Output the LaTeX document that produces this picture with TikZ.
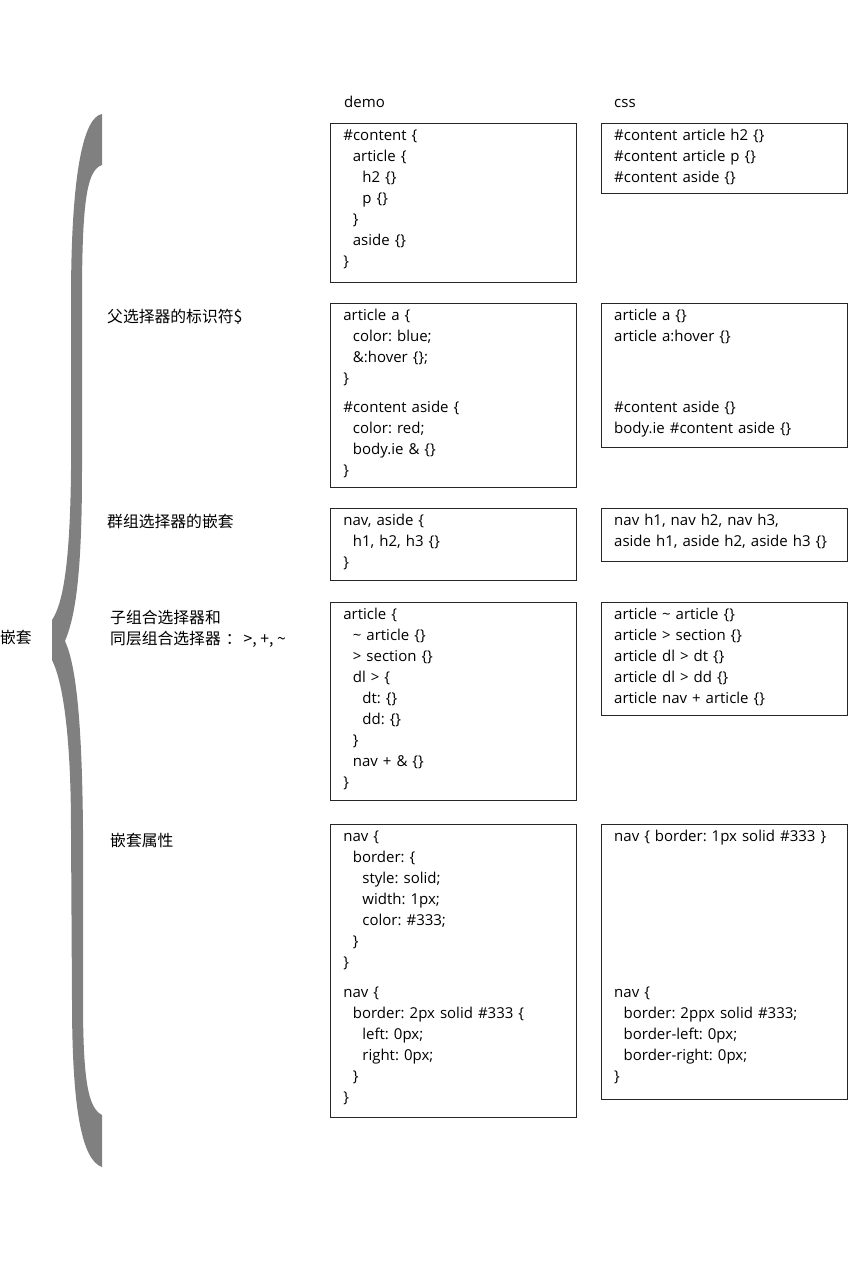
\documentclass[tikz,border=0pt]{standalone}
\usepackage{fontspec}
\setmainfont{Open Sans}
\newfontfamily\cjk{Noto Sans CJK SC}
\usetikzlibrary{positioning}
\tikzstyle{codebox} = [rectangle, draw=black!85, line width=0.8pt, anchor=north west,
    text width=220pt, align=left, inner xsep=13pt, inner ysep=0pt,
    text height=17.5pt, font=\fontsize{15}{21}\selectfont]
\tikzstyle{title} = [anchor=base west, inner sep=0pt, font=\fontsize{15}{21}\selectfont]
\tikzstyle{topic} = [anchor=base west, inner sep=0pt, align=left,
    font=\cjk\fontsize{15.8}{21}\selectfont]
\tikzstyle{brace} = [fill=black!50, draw=none]
\newcommand{\tabone}{\hspace*{9.5pt}}
\newcommand{\tabtwo}{\hspace*{19pt}}
\frenchspacing

\begin{document}
\begin{tikzpicture}[x=1pt, y=-1pt]
    \useasboundingbox (0,0) rectangle (848,1269);

    % Place titles
    \node [title] (demo) at (344,107) {demo};
    \node [title] (css) at (614,107) {css};

    % Place demo boxes
    \node [codebox, text depth=141.5pt] (demo1) at (330,123)
        {\#content \{\\ \tabone article \{\\ \tabtwo h2 \{\}\\ \tabtwo p \{\}\\
         \tabone \}\\ \tabone aside \{\}\\ \}};
    \node [codebox, text depth=166.5pt, below right=20.2pt and 0pt of demo1.south west] (demo2)
        {article a \{\\ \tabone color: blue;\\ \tabone \&:hover \{\};\\ \}\\[8pt]
         \#content aside \{\\ \tabone color: red;\\ \tabone body.ie \& \{\}\\ \}};
    \node [codebox, text depth=54.5pt, below right=20.2pt and 0pt of demo2.south west] (demo3)
        {nav, aside \{\\ \tabone h1, h2, h3 \{\}\\ \}};
    \node [codebox, text depth=180.5pt, below right=21.2pt and 0pt of demo3.south west] (demo4)
        {article \{\\ \tabone \textasciitilde{} article \{\}\\ \tabone > section \{\}\\
         \tabone dl > \{\\ \tabtwo dt: \{\}\\ \tabtwo dd: \{\}\\ \tabone \}\\
         \tabone nav + \& \{\}\\ \}};
    \node [codebox, text depth=275.5pt, below right=23.2pt and 0pt of demo4.south west] (demo5)
        {nav \{\\ \tabone border: \{\\ \tabtwo style: solid;\\ \tabtwo width: 1px;\\
         \tabtwo color: \#333;\\ \tabone \}\\ \}\\[9pt]
         nav \{\\ \tabone border: 2px solid \#333 \{\\ \tabtwo left: 0px;\\
         \tabtwo right: 0px;\\ \tabone \}\\ \}};

    % Place css boxes
    \node [codebox, text depth=52.5pt, below right=0pt and 24pt of demo1.north east] (css1)
        {\#content article h2 \{\}\\ \#content article p \{\}\\ \#content aside \{\}};
    \node [codebox, text depth=126.5pt, below right=0pt and 24pt of demo2.north east] (css2)
        {article a \{\}\\ article a:hover \{\}\\[50pt]
         \#content aside \{\}\\ body.ie \#content aside \{\}};
    \node [codebox, text depth=35.5pt, below right=0pt and 24pt of demo3.north east] (css3)
        {nav h1, nav h2, nav h3,\\ aside h1, aside h2, aside h3 \{\}};
    \node [codebox, text depth=95.5pt, below right=0pt and 24pt of demo4.north east] (css4)
        {article \textasciitilde{} article \{\}\\ article > section \{\}\\
         article dl > dt \{\}\\ article dl > dd \{\}\\ article nav + article \{\}};
    \node [codebox, text depth=257.5pt, below right=0pt and 24pt of demo5.north east] (css5)
        {nav \{ border: 1px solid \#333 \}\\[135pt]
         nav \{\\ \tabone border: 2ppx solid \#333;\\ \tabone border-left: 0px;\\
         \tabone border-right: 0px;\\ \}};

    % Place topics
    \node [topic] (nesting) at (0,643) {嵌套};
    \node [topic] (parent) at (107,322) {父选择器的标识符\$};
    \node [topic] (group) at (107,527) {群组选择器的嵌套};
    \node [topic] (combinator) at (110,644)
        {子组合选择器和\\同层组合选择器\hspace{5pt}：\hspace{2pt}>, +, \textasciitilde};
    \node [topic] (property) at (110,846) {嵌套属性};

    % Draw brace
    \fill [brace] (102,114) .. controls (84,117) and (71,170) .. (71,300)
        -- (71,470) .. controls (70,570) and (62,605) .. (52,620)
        -- (52,660) .. controls (62,680) and (71,730) .. (71,830)
        -- (72,1000) .. controls (72,1110) and (82,1160) .. (102,1167)
        -- (102,1115) .. controls (88,1108) and (83,1080) .. (83,1000)
        -- (83,830) .. controls (82,720) and (76,665) .. (65,641)
        .. controls (76,615) and (82,570) .. (82,470)
        -- (82,300) .. controls (82,200) and (87,170) .. (102,165) -- cycle;

\end{tikzpicture}
\end{document}
